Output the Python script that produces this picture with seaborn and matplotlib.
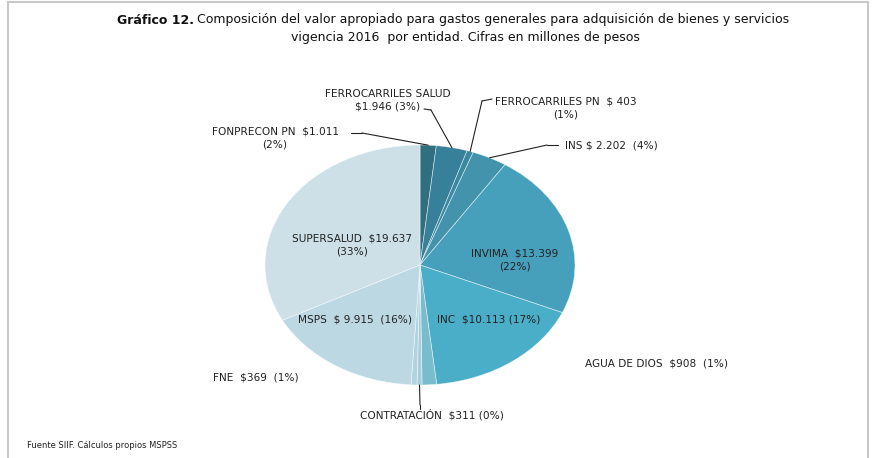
import numpy as np
import matplotlib
matplotlib.use('Agg')
import matplotlib.pyplot as plt
import seaborn as sns
from matplotlib.patches import Rectangle

# Data (millones de pesos), clockwise from 12 o'clock
entidades = ['FONPRECON PN', 'FERROCARRILES SALUD', 'FERROCARRILES PN', 'INS',
             'INVIMA', 'INC', 'AGUA DE DIOS', 'CONTRATACIÓN', 'FNE', 'MSPS', 'SUPERSALUD']
valores = [1011, 1946, 403, 2202, 13399, 10113, 908, 311, 369, 9915, 19637]
etiquetas = ['FONPRECON PN  $1.011\n(2%)',
             'FERROCARRILES SALUD\n$1.946 (3%)',
             'FERROCARRILES PN  $ 403\n(1%)',
             'INS $ 2.202  (4%)',
             'INVIMA  $13.399\n(22%)',
             'INC  $10.113 (17%)',
             'AGUA DE DIOS  $908  (1%)',
             'CONTRATACIÓN  $311 (0%)',
             'FNE  $369  (1%)',
             'MSPS  $ 9.915  (16%)',
             'SUPERSALUD  $19.637\n(33%)']
colores = ['#2f6f7f', '#36809a', '#3b88a1', '#4393ad', '#47a0bb', '#4aaec8',
           '#79bccd', '#a3d0dc', '#b0d4df', '#bcd8e3', '#cde0e8']

sns.set_theme(style='white')
plt.rcParams['font.family'] = ['DejaVu Sans']

W, H = 872, 458
fig = plt.figure(figsize=(W / 100, H / 100), dpi=100)
fig.patch.set_facecolor('white')


def px(x, y):
    # pixel position (top-left origin) -> figure fraction
    return (x / W, 1 - y / H)


# elliptical pie: center (420, 265), rx 155, ry 120
ax = fig.add_axes([265 / W, (H - 385) / H, 310 / W, 240 / H])
wedges, _ = ax.pie(valores, colors=colores, startangle=90, counterclock=False,
                   wedgeprops=dict(edgecolor='white', linewidth=0.5))
for w in wedges:
    w.set_edgecolor((1, 1, 1, 0.6))
ax.set_aspect('auto')
ax.set_xlim(-1, 1)
ax.set_ylim(-1, 1)
ax.axis('off')

total = sum(valores)
cum = np.cumsum([0] + valores[:-1])
mid_ang = [np.deg2rad(90 - 360 * (c + v / 2) / total) for c, v in zip(cum, valores)]

# label placement (pixel centers) and leader lines (label end, knee)
pos = {
    'FONPRECON PN': (275, 138),
    'FERROCARRILES SALUD': (388, 100),
    'FERROCARRILES PN': (566, 108),
    'INS': (611, 145),
    'INVIMA': (515, 260),
    'INC': (489, 319),
    'AGUA DE DIOS': (656, 364),
    'CONTRATACIÓN': (432, 415),
    'FNE': (256, 378),
    'MSPS': (355, 319),
    'SUPERSALUD': (352, 245),
}
leaders = {
    'FONPRECON PN': [(351, 133), (362, 133)],
    'FERROCARRILES SALUD': [(424, 109), (431, 110)],
    'FERROCARRILES PN': [(492, 99), (482, 101)],
    'INS': [(558, 145), (547, 145)],
    'CONTRATACIÓN': [(420, 409), (420, 405)],
}

for name, lab, ang in zip(entidades, etiquetas, mid_ang):
    x, y = pos[name]
    fig.text(*px(x, y), lab, ha='center', va='center', fontsize=7.6,
             color='#222222', linespacing=1.3)
    if name in leaders:
        (x0, y0), (x1, y1) = leaders[name]
        fig.add_artist(plt.Line2D([x0 / W, x1 / W], [1 - y0 / H, 1 - y1 / H],
                                  transform=fig.transFigure, color='#222222', lw=0.8))
        ax.annotate('', xy=(np.cos(ang), np.sin(ang)), xycoords='data',
                    xytext=px(x1, y1), textcoords='figure fraction',
                    arrowprops=dict(arrowstyle='-', color='#222222', lw=0.8,
                                    shrinkA=0, shrinkB=0))

# title: bold prefix + regular text
t1 = fig.text(*px(117, 20), 'Gráfico 12.', ha='left', va='center',
              fontsize=9, fontweight='bold', color='#111111')
fig.canvas.draw()
bb = t1.get_window_extent()
fig.text(bb.x1 / W + 3 / W, 1 - 20 / H,
         'Composición del valor apropiado para gastos generales para adquisición de bienes y servicios',
         ha='left', va='center', fontsize=9, color='#111111')
fig.text(*px(465, 38), 'vigencia 2016  por entidad. Cifras en millones de pesos',
         ha='center', va='center', fontsize=9, color='#111111')

fig.text(*px(27, 446), 'Fuente SIIF. Cálculos propios MSPSS', ha='left', va='center',
         fontsize=6, color='#222222')

# outer frame
fig.add_artist(Rectangle((8 / W, -0.05), (W - 12) / W, 1.05 - 2 / H,
                         transform=fig.transFigure, fill=False,
                         edgecolor='#c8c8c8', lw=1.5))

fig.savefig('out.png', dpi=100, facecolor='white')
